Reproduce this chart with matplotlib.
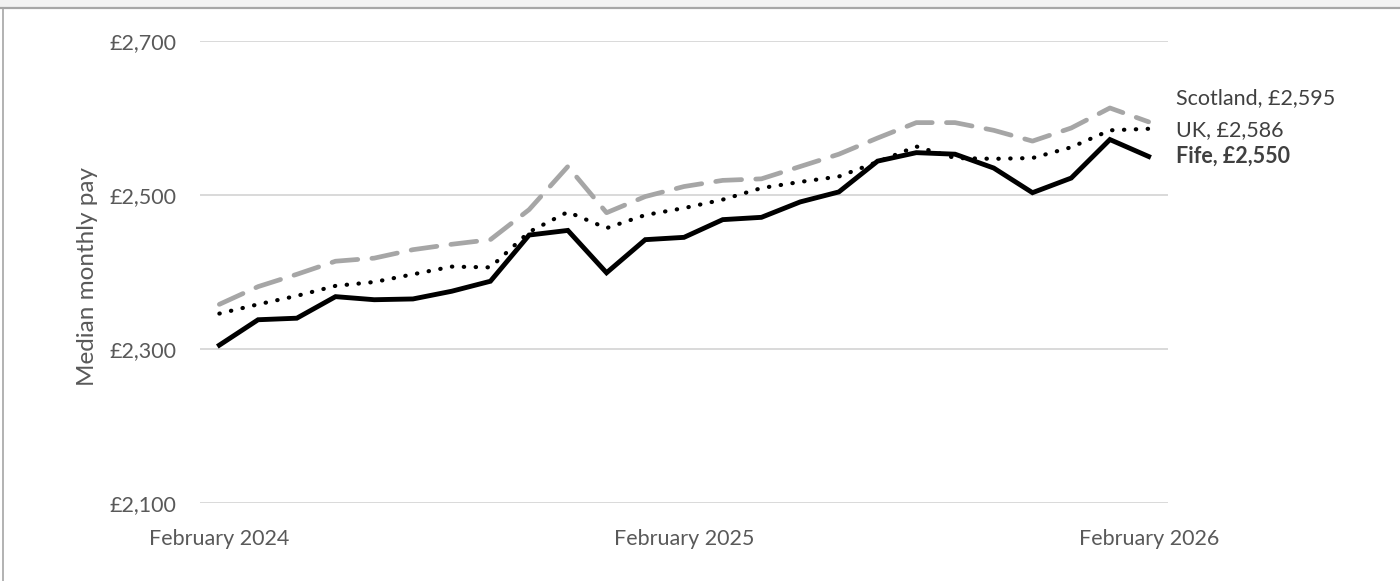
import matplotlib
matplotlib.use("Agg")
import matplotlib.pyplot as plt
from matplotlib.patches import Rectangle
from matplotlib.lines import Line2D

# ── data ───────────────────────────────────────────────────────────────────────
months = ["February 2024", "March 2024", "April 2024", "May 2024", "June 2024",
          "July 2024", "August 2024", "September 2024", "October 2024",
          "November 2024", "December 2024", "January 2025", "February 2025",
          "March 2025", "April 2025", "May 2025", "June 2025", "July 2025",
          "August 2025", "September 2025", "October 2025", "November 2025",
          "December 2025", "January 2026", "February 2026"]
fife = [2305, 2338, 2340, 2368, 2364, 2365, 2375, 2388, 2448, 2454, 2399, 2442,
        2445, 2468, 2471, 2491, 2504, 2544, 2555, 2553, 2535, 2503, 2522, 2572, 2550]
uk = [2346, 2358, 2369, 2382, 2387, 2397, 2407, 2406, 2452, 2478, 2457, 2474,
      2483, 2494, 2509, 2517, 2524, 2543, 2563, 2548, 2547, 2548, 2562, 2584, 2586]
scotland = [2358, 2381, 2397, 2414, 2418, 2429, 2436, 2442, 2481, 2537, 2477, 2498,
            2511, 2519, 2521, 2537, 2553, 2574, 2594, 2594, 2584, 2570, 2587, 2613, 2595]
yticks = [2100, 2300, 2500, 2700]
xtick_idx = [0, 12, 24]

# ── theme ──────────────────────────────────────────────────────────────────────
TEXT = "#595959"
LABEL = "#404040"
GRID = "#d9d9d9"
GREY = "#a6a6a6"

plt.rcParams["font.family"] = ["Lato", "DejaVu Sans"]

fig = plt.figure(figsize=(14, 5.81), dpi=100, facecolor="white")
ax = fig.add_axes([200 / 1400, 1 - 503 / 581, 968 / 1400, 462 / 581])

x = list(range(len(months)))
ax.plot(x, scotland, color=GREY, lw=3.4, linestyle=(0, (5.5, 3)),
        dash_capstyle="round", solid_joinstyle="round", zorder=3)
ax.plot(x, uk, color="black", lw=3.0, linestyle=(0, (0.1, 2.75)),
        dash_capstyle="round", zorder=4)
ax.plot(x, fife, color="black", lw=3.5, solid_joinstyle="miter", zorder=5)

ax.set_xlim(-0.5, len(months) - 0.5)
ax.set_ylim(2100, 2700)
ax.set_yticks(yticks)
ax.set_yticklabels([f"£{v:,}" for v in yticks])
ax.set_xticks(xtick_idx)
ax.set_xticklabels([months[i] for i in xtick_idx])
ax.tick_params(axis="y", length=0, pad=17, labelsize=15.5, labelcolor=TEXT)
ax.tick_params(axis="x", length=0, pad=19, labelsize=15.5, labelcolor=TEXT)
ax.yaxis.grid(True, color=GRID, lw=1.4)
ax.set_axisbelow(True)
for s in ax.spines.values():
    s.set_visible(False)
fig.text(88 / 1400, 1 - 276 / 581, "Median monthly pay", rotation=90,
         ha="center", va="center", color=TEXT, fontsize=17.5)

# end labels
last = len(months) - 1
ends = [("Scotland", scotland[-1], -24, "normal"),
        ("UK", uk[-1], 1, "normal"),
        ("Fife", fife[-1], 0, "bold")]
for name, val, dy, weight in ends:
    ax.annotate(f"{name}, £{val:,}", xy=(last, val), xytext=(27, -dy),
                textcoords="offset pixels", va="center", ha="left",
                fontsize=15.5, color=LABEL, fontweight=weight,
                annotation_clip=False)

# frame bits of the source screenshot
fig.patches.append(Rectangle((0, 1 - 7 / 581), 1, 7 / 581, transform=fig.transFigure,
                             facecolor="#f2f2f2", edgecolor="none", zorder=0))
fig.lines.append(Line2D([0, 1], [1 - 8 / 581, 1 - 8 / 581], transform=fig.transFigure,
                        color=GREY, lw=1.6))
fig.lines.append(Line2D([2.5 / 1400, 2.5 / 1400], [0, 1 - 8 / 581], transform=fig.transFigure,
                        color=GREY, lw=1.2))

fig.savefig("out.png", dpi=100, facecolor="white")
